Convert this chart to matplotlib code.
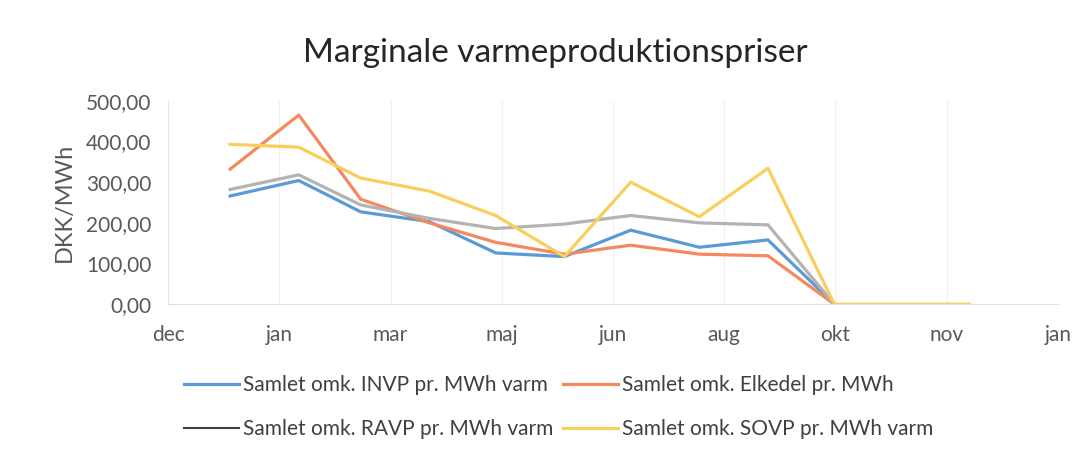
import numpy as np
import matplotlib.pyplot as plt
from matplotlib.lines import Line2D

# day of year for the 1st of each month (jan..dec)
days = [0, 31, 59, 90, 120, 151, 181, 212, 243, 273, 304, 334]

invp = [266, 304, 227, 203, 126, 117, 182, 140, 158, 0]
elkedel = [332, 465, 258, 200, 152, 123, 145, 123, 119, 0]
ravp = [282, 318, 244, 211, 186, 197, 218, 200, 195, 0]
sovp = [393, 386, 310, 278, 218, 117, 300, 215, 334, 0, 0, 0]

tick_labels = ['dec', 'jan', 'mar', 'maj', 'jun', 'aug', 'okt', 'nov', 'jan']

labels = ['Samlet omk. INVP pr. MWh varm', 'Samlet omk. Elkedel pr. MWh',
          'Samlet omk. RAVP pr. MWh varm', 'Samlet omk. SOVP pr. MWh varm']
colors = ['#5b9bd5', '#f4895f', '#b3b3b3', '#f7cf5a']

plt.rcParams['font.family'] = ['Lato', 'DejaVu Sans']

fig = plt.figure(figsize=(10.85, 4.5), dpi=100)
ax = fig.add_axes([0.155, 0.324, 0.82, 0.452])

ax.plot(days[:len(invp)], invp, c=colors[0], lw=2.3)
ax.plot(days[:len(elkedel)], elkedel, c=colors[1], lw=2.3)
ax.plot(days[:len(ravp)], ravp, c=colors[2], lw=2.3)
ax.plot(days[:len(sovp)], sovp, c=colors[3], lw=2.3)

ax.set_ylim(0, 500)
ax.set_xlim(-28, 374)
ax.set_xticks(np.linspace(-28, 374, 9))
ax.set_xticklabels(tick_labels)
ax.set_yticks(np.arange(0, 501, 100))
ax.set_yticklabels(['%d,00' % v for v in range(0, 501, 100)])
ax.tick_params(length=0, labelsize=15, colors='#595959', pad=15)
ax.tick_params(axis='y', pad=12)
ax.grid(axis='x', color='#f0f0f0', lw=0.8)
for s in ['top', 'right']:
    ax.spines[s].set_visible(False)
ax.spines['left'].set_color('#e6e6e6')
ax.spines['bottom'].set_color('#e0e0e0')

ax.set_ylabel('DKK/MWh', fontsize=17, color='#595959', labelpad=8)
fig.suptitle('Marginale varmeproduktionspriser', x=0.512, y=0.915, fontsize=24, color='#262626')

# legend filled column-first, so order gives rows INVP/Elkedel, RAVP/SOVP
handles = [Line2D([], [], c=colors[0], lw=2.3),
           Line2D([], [], c='#404040', lw=1.5),
           Line2D([], [], c=colors[1], lw=2.3),
           Line2D([], [], c=colors[3], lw=2.3)]
leg_labels = [labels[0], labels[2], labels[1], labels[3]]
fig.legend(handles, leg_labels, ncol=2, loc='center', bbox_to_anchor=(0.515, 0.095),
           frameon=False, fontsize=15, labelcolor='#404040', handlelength=2.6,
           handletextpad=0.2, columnspacing=0.5, labelspacing=1.15)

fig.savefig('out.png', dpi=100)
